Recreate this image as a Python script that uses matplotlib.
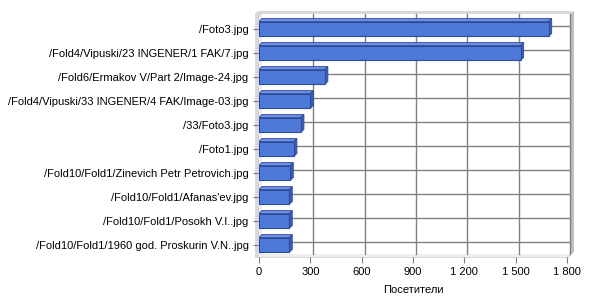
import matplotlib
matplotlib.use("Agg")
import matplotlib.pyplot as plt
from matplotlib.patches import Polygon
from matplotlib.lines import Line2D
import matplotlib.transforms as mtrans
from matplotlib.ticker import FuncFormatter
import numpy as np

categories = ["/Foto3.jpg",
              "/Fold4/Vipuski/23 INGENER/1 FAK/7.jpg",
              "/Fold6/Ermakov V/Part 2/Image-24.jpg",
              "/Fold4/Vipuski/33 INGENER/4 FAK/Image-03.jpg",
              "/33/Foto3.jpg",
              "/Foto1.jpg",
              "/Fold10/Fold1/Zinevich Petr Petrovich.jpg",
              "/Fold10/Fold1/Afanas'ev.jpg",
              "/Fold10/Fold1/Posokh V.I..jpg",
              "/Fold10/Fold1/1960 god. Proskurin V.N..jpg"]
visitors = [1693, 1529, 385, 300, 245, 204, 183, 177, 177, 177]
xticks = [0, 300, 600, 900, 1200, 1500, 1800]
xlabel = "Посетители"

plt.rcParams['font.family'] = ['Liberation Sans', 'DejaVu Sans']
fig = plt.figure(figsize=(6, 3), dpi=100)
ax = fig.add_axes([259/600, 43/300, 308/600, 240/300])

y = list(range(len(categories)))[::-1]
h = 0.62
face = "#4f79d8"
edge = "#2c4a9a"
side = "#3b5fb5"
top = "#6a8ee0"
grid_c = "#808080"
wall_c = "#d8d8d8"
rwall_c = "#c0c0c0"

ax.set_xlim(0, 1800)
ax.set_ylim(-0.5, len(categories) - 0.5)
ax.patch.set_visible(False)
for s in ax.spines.values():
    s.set_visible(False)

ID = mtrans.IdentityTransform()
d = 3  # depth in px

def T(x, yy):
    return ax.transData.transform((x, yy))

(xl, yb) = T(0, -0.5)
(xr, yt) = T(1800, len(categories) - 0.5)

def poly(pts, fc, ec="none", lw=0.0, z=1):
    p = Polygon(pts, closed=True, transform=ID, facecolor=fc, edgecolor=ec,
                linewidth=lw, zorder=z, clip_on=False)
    ax.add_patch(p)

# back wall edges: top strip, right wall strip
poly([(xl - 4, yt + d), (xr + d, yt + d), (xr + d + 3, yt + d + 3), (xl - 1, yt + d + 3)], wall_c, z=0.5)
poly([(xr + d, yb + d - 1), (xr + d + 4, yb + d + 2), (xr + d + 4, yt + d + 3), (xr + d, yt + d)], rwall_c, z=0.5)
# left wall
poly([(xl - 4, yb - 1), (xl, yb), (xl + d, yb + d), (xl + d, yt + d), (xl - 1, yt + d + 3), (xl - 4, yt + d)],
     wall_c, z=0.5)
poly([(xl, yb), (xl + d, yb + d), (xl + d, yt + d), (xl, yt)], "#eeeeee", z=0.6)
# floor
poly([(xl - 4, yb - 1), (xr + 1, yb - 1), (xr + d + 4, yb + d + 2), (xr + d, yb + d), (xl + d, yb + d), (xl, yb)],
     wall_c, z=0.5)
poly([(xl, yb), (xr, yb), (xr + d, yb + d), (xl + d, yb + d)], "#eeeeee", z=0.6)

# grid on back wall
for t in xticks[1:]:
    gx = T(t, 0)[0] + d
    ax.add_line(Line2D([gx, gx], [yb + d, yt + d], transform=ID, color=grid_c, lw=1.0, zorder=0.8, clip_on=False))
for yi in y:
    gy = T(0, yi)[1] + d
    ax.add_line(Line2D([xl + d, xr + d], [gy, gy], transform=ID, color=grid_c, lw=1.0, zorder=0.8, clip_on=False))

# bars with 3D depth
for yi, v in zip(y, visitors):
    y0, y1 = yi - h / 2, yi + h / 2
    ax.barh(yi, v, height=h, color=face, edgecolor=edge, linewidth=0.8, zorder=4)
    a = T(0, y1); b = T(v, y1); c = T(v, y0)
    poly([a, b, b + [d, d], a + [d, d]], top, edge, 0.6, z=3)
    poly([c, b, b + [d, d], c + [d, d]], side, edge, 0.6, z=3)

ax.set_yticks(y)
ax.set_yticklabels(categories, fontsize=8)
ax.set_xticks(xticks)
ax.xaxis.set_major_formatter(FuncFormatter(lambda v, p: f"{int(v):,}".replace(",", " ")))
ax.tick_params(axis='x', labelsize=8, length=4, color=grid_c, pad=3)
ax.tick_params(axis='y', length=4, color=grid_c)
ax.set_xlabel(xlabel, fontsize=8, labelpad=6)

fig.savefig("out.png", dpi=100)
